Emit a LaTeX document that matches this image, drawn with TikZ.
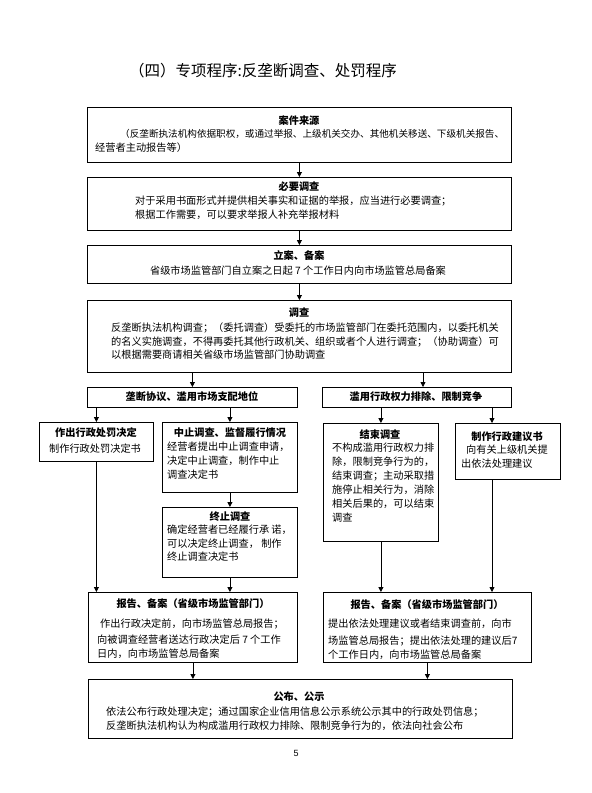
\documentclass[tikz,border=0pt]{standalone}
\usepackage{fontspec}
\setmainfont{Noto Sans CJK SC}
\newfontfamily\latfont{Liberation Sans}
\usetikzlibrary{arrows.meta}
\newcommand\fs{\fontsize{10.2}{13.8}\selectfont}
\begin{document}
\begin{tikzpicture}[x=1pt,y=-1pt,
 box/.style={draw, line width=0.8pt, inner sep=0, anchor=north west},
 hd/.style={font=\fs\bfseries, inner sep=0},
 tx/.style={font=\fs, inner sep=0, anchor=west},
 arr/.style={-{Triangle[length=5pt,width=5pt]}, line width=0.8pt}]
\useasboundingbox[fill=white] (0,0) rectangle (592,793);

% title
\node[inner sep=0, font=\fontsize{15.5}{18}\selectfont] (title) at (263,71) {（四）专项程序:反垄断调查、处罚程序};

% boxes
\node[box, minimum width=424pt, minimum height=55pt] (b1) at (87,107) {};
\node[box, minimum width=424pt, minimum height=53pt] (b2) at (87,177) {};
\node[box, minimum width=424pt, minimum height=38pt] (b3) at (87,245) {};
\node[box, minimum width=424pt, minimum height=72pt] (b4) at (87,300) {};
\node[box, minimum width=210pt, minimum height=20pt] (b5) at (87,387) {};
\node[box, minimum width=189pt, minimum height=20pt] (b5b) at (322,387) {};
\node[box, minimum width=114pt, minimum height=39pt] (b6) at (39,422) {};
\node[box, minimum width=135pt, minimum height=70pt] (b7) at (162,422) {};
\node[box, minimum width=135pt, minimum height=70pt] (b8) at (162,507) {};
\node[box, minimum width=115pt, minimum height=118pt] (b9) at (323,423) {};
\node[box, minimum width=105pt, minimum height=56pt] (b10) at (455,423) {};
\node[box, minimum width=209pt, minimum height=70pt] (b11) at (88,592) {};
\node[box, minimum width=208pt, minimum height=70pt] (b12) at (323,592) {};
\node[box, minimum width=424pt, minimum height=59pt] (b13) at (88,679) {};

% arrows
\draw[arr] (b1.south) -- (b2.north);
\draw[arr] (b2.south) -- (b3.north);
\draw[arr] (b3.south) -- (b4.north);
\draw[arr] (b4.south -| b5.north) -- (b5.north);
\draw[arr] (b4.south -| 423,0) -- (b5b.north -| 423,0);
\draw[arr] (b5.south -| b6.north) -- (b6.north);
\draw[arr] (b5.south -| b7.north) -- (b7.north);
\draw[arr] (b5b.south -| b9.north) -- (b9.north);
\draw[arr] (b5b.south -| 492,0) -- (b10.north -| 492,0);
\draw[arr] (b7.south) -- (b8.north);
\draw[arr] (b6.south) -- (b6.south |- b11.north);
\draw[arr] (b8.south) -- (b8.south |- b11.north);
\draw[arr] (b9.south) -- (b9.south |- b12.north);
\draw[arr] (b10.south -| 492,0) -- (b12.north -| 492,0);
\draw[arr] (b11.south) -- (b11.south |- b13.north);
\draw[arr] (b12.south) -- (b12.south |- b13.north);

% box 1
\node[hd] (t1h) at (299,121) {案件来源};
\node[tx, font=\fontsize{9.6}{13}\selectfont] (t1a) at (120,134) {（反垄断执法机构依据职权，或通过举报、上级机关交办、其他机关移送、下级机关报告、};
\node[tx] (t1b) at (95,148) {经营者主动报告等）};

% box 2
\node[hd] (t2h) at (299,187) {必要调查};
\node[tx] (t2a) at (135,201) {对于采用书面形式并提供相关事实和证据的举报，应当进行必要调查；};
\node[tx] (t2b) at (135,215) {根据工作需要，可以要求举报人补充举报材料};

% box 3
\node[hd] (t3h) at (299,256) {立案、备案};
\node[inner sep=0, font=\fs] (t3a) at (298,271) {省级市场监管部门自立案之日起 7 个工作日内向市场监管总局备案};

% box 4
\node[hd] (t4h) at (299,313) {调查};
\node[tx] (t4a) at (111,328) {反垄断执法机构调查；（委托调查）受委托的市场监管部门在委托范围内，以委托机关};
\node[tx] (t4b) at (111,341.5) {的名义实施调查，不得再委托其他行政机关、组织或者个人进行调查；（协助调查）可};
\node[tx] (t4c) at (111,355) {以根据需要商请相关省级市场监管部门协助调查};

% box 5
\node[hd] (t5h) at (192,397) {垄断协议、滥用市场支配地位};
\node[hd] (t5bh) at (416,397) {滥用行政权力排除、限制竞争};

% box 6
\node[hd] (t6h) at (96,433) {作出行政处罚决定};
\node[inner sep=0, font=\fs] (t6a) at (95,449) {制作行政处罚决定书};

% box 7
\node[hd] (t7h) at (230,433) {中止调查、监督履行情况};
\node[tx] (t7a) at (167,447) {经营者提出中止调查申请，};
\node[tx] (t7b) at (167,461) {决定中止调查，制作中止};
\node[tx] (t7c) at (167,475) {调查决定书};

% box 8
\node[hd] (t8h) at (230,517) {终止调查};
\node[tx] (t8a) at (167,530) {确定经营者已经履行承 诺，};
\node[tx] (t8b) at (167,544) {可以决定终止调查， 制作};
\node[tx] (t8c) at (167,557) {终止调查决定书};

% box 9
\node[hd] (t9h) at (380,435) {结束调查};
\node[tx] (t9a) at (332,448) {不构成滥用行政权力排};
\node[tx] (t9b) at (332,462) {除，限制竞争行为的，};
\node[tx] (t9c) at (332,476) {结束调查；主动采取措};
\node[tx] (t9d) at (332,490) {施停止相关行为，消除};
\node[tx] (t9e) at (332,504) {相关后果的，可以结束};
\node[tx] (t9f) at (332,518) {调查};

% box 10
\node[hd] (t10h) at (507,437) {制作行政建议书};
\node[tx] (t10a) at (466,450) {向有关上级机关提};
\node[tx] (t10b) at (461,464) {出依法处理建议};

% box 11
\node[hd] (t11h) at (193,604) {报告、备案（省级市场监管部门）};
\node[tx] (t11a) at (100,624) {作出行政决定前，向市场监管总局报告；};
\node[tx] (t11b) at (97,640) {向被调查经营者送达行政决定后 7 个工作};
\node[tx] (t11c) at (97,654) {日内，向市场监管总局备案};

% box 12
\node[hd] (t12h) at (427,605) {报告、备案（省级市场监管部门）};
\node[tx] (t12a) at (328,624) {提出依法处理建议或者结束调查前，向市};
\node[tx] (t12b) at (328,641) {场监管总局报告；提出依法处理的建议后7};
\node[tx] (t12c) at (328,655) {个工作日内，向市场监管总局备案};

% box 13
\node[hd] (t13h) at (299,697) {公布、公示};
\node[tx] (t13a) at (106,712) {依法公布行政处理决定；通过国家企业信用信息公示系统公示其中的行政处罚信息；};
\node[tx] (t13b) at (106,725.5) {反垄断执法机构认为构成滥用行政权力排除、限制竞争行为的，依法向社会公布};

% page number
\node[inner sep=0, font=\latfont\fontsize{9}{11}\selectfont] (pg) at (296,753) {5};
\end{tikzpicture}
\end{document}
